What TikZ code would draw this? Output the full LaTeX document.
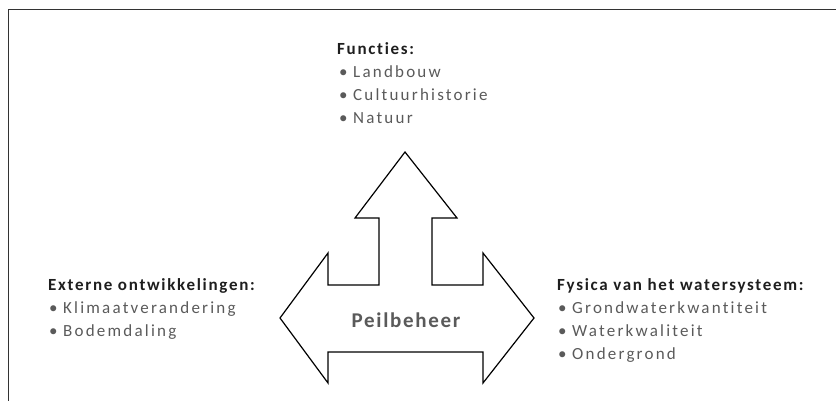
\documentclass[tikz,border=0pt]{standalone}
\usepackage{fontspec}
\setmainfont{Carlito}
\newfontfamily\kopfont[LetterSpace=10, Ligatures=NoCommon]{Carlito}
\newfontfamily\puntfont[LetterSpace=13, Ligatures=NoCommon]{Carlito}
\newfontfamily\peilfont[LetterSpace=8, Ligatures=NoCommon]{Carlito}
\usepackage{xcolor}
\usetikzlibrary{calc}

\definecolor{kopkleur}{HTML}{1E1E1E}
\definecolor{puntkleur}{HTML}{5A5A5A}

\tikzset{
	kop/.style = {anchor = base west, inner sep = 0pt, text = kopkleur, font = \kopfont\fontsize{17}{19}\selectfont\bfseries},
	punt/.style = {anchor = base west, inner sep = 0pt, text = puntkleur, font = \puntfont\fontsize{17}{19}\selectfont},
	pijl/.style = {draw = black, line width = 1.2pt, line join = miter, fill = white}
}

\begin{document}
\begin{tikzpicture}[x = 1pt, y = -1pt]
		\useasboundingbox (0,0) rectangle (836,401);
		% kader
		\draw[line width = 1pt, black!80] (8,401) -- (8,10) -- (836,10);
		% pijl met drie punten
		\draw[pijl] (405,152) -- (457,218) -- (432,218) -- (432,285) -- (483,285) -- (483,253)
			-- (534,318) -- (483,383) -- (483,352) -- (328,352) -- (328,383) -- (280,318)
			-- (328,253) -- (328,285) -- (379,285) -- (379,218) -- (355,218) -- cycle;
		\node[text = puntkleur, font = \peilfont\fontsize{21}{24}\selectfont\bfseries] (peil) at (406,320) {Peilbeheer};
		% functies
		\node[kop] (functies) at (337,55) {Functies:};
		\foreach \t [count = \i] in {Landbouw, Cultuurhistorie, Natuur}
			\node[punt] (f\i) at (339, 55 + 22.7*\i) {\makebox[14pt][l]{•}\t};
		% externe ontwikkelingen
		\node[kop] (extern) at (48,290) {Externe ontwikkelingen:};
		\foreach \t [count = \i] in {Klimaatverandering, Bodemdaling}
			\node[punt] (e\i) at (49, 290 + 23*\i) {\makebox[14pt][l]{•}\t};
		% fysica
		\node[kop] (fysica) at (557,290) {Fysica van het watersysteem:};
		\foreach \t [count = \i] in {Grondwaterkwantiteit, Waterkwaliteit, Ondergrond}
			\node[punt] (w\i) at (558, 290 + 23.3*\i) {\makebox[14pt][l]{•}\t};
	\end{tikzpicture}
\end{document}
